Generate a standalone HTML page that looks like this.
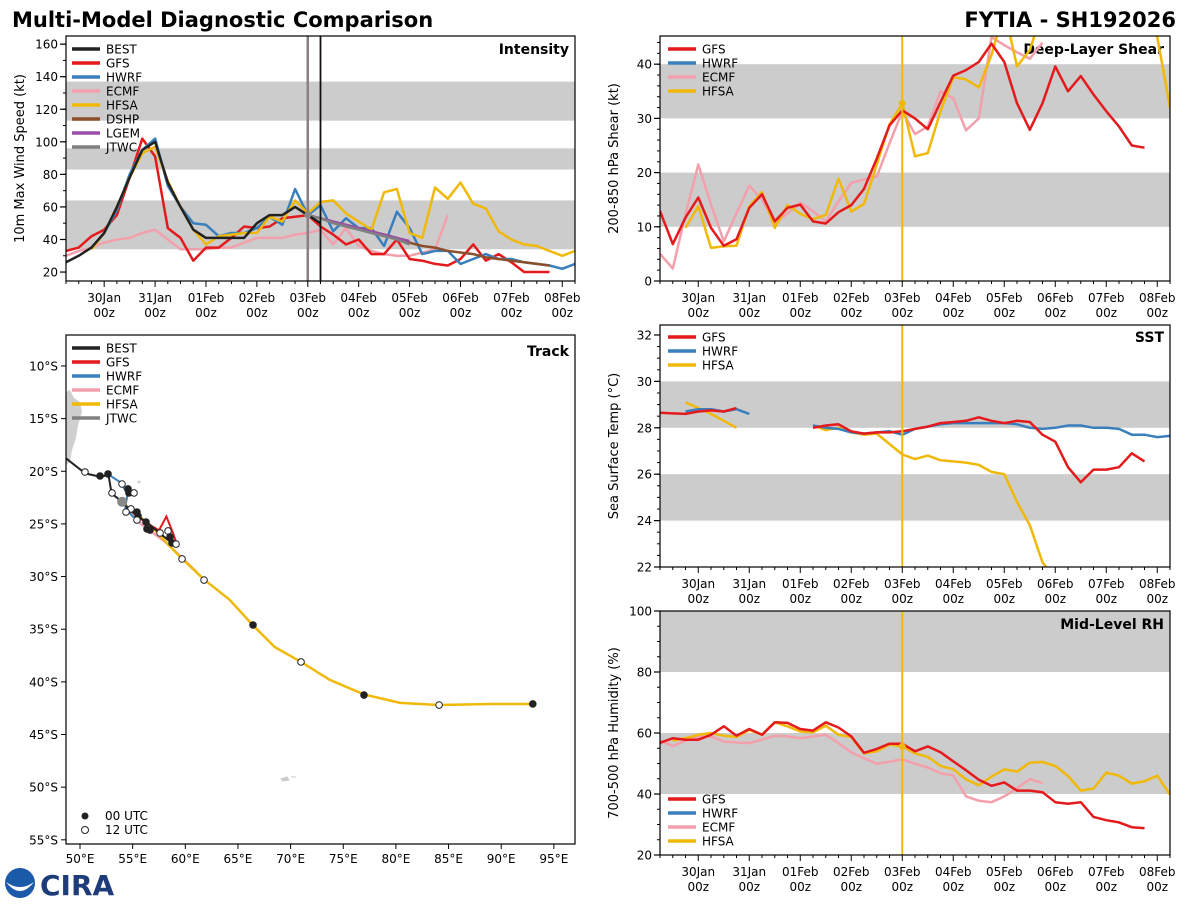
<!DOCTYPE html>
<html><head><meta charset="utf-8"><style>
html,body{margin:0;padding:0;background:#fff;}
svg text{font-family:"DejaVu Sans","Liberation Sans",sans-serif;}
</style></head><body>
<svg id="root" xmlns="http://www.w3.org/2000/svg" width="1200" height="900" viewBox="0 0 1200 900">
<rect width="1200" height="900" fill="#fff"/>
<text x="12" y="27" font-size="21" font-weight="bold" fill="#000">Multi-Model Diagnostic Comparison</text>
<text x="1176" y="27" font-size="21" font-weight="bold" fill="#000" text-anchor="end">FYTIA - SH192026</text>
<g>
<circle cx="20" cy="883" r="15" fill="#1a5aa8"/>
<path d="M6,882 Q20,900 34,882 Q20,892 6,882Z" fill="#fff"/>
<text x="40" y="895" font-size="28" font-weight="bold" fill="#1f3c7a" font-family="Liberation Serif,serif">CIRA</text>
</g>
</svg>
<script>
// ---------- DATA ----------
const dayLabels = ["30Jan","31Jan","01Feb","02Feb","03Feb","04Feb","05Feb","06Feb","07Feb","08Feb"];
// series index i -> hour 6+6*i from 29Jan 00z
const intBEST = [26,30,35,44,60,78,95,100,75,60,46,41,41,41,41,50,55,55,60,55,50];
const intGFS  = [33,35,42,46,55,78,102,91,47,41,27,35,35,41,48,47,48,53,54,55,48,43,37,40,31,31,40,28,27,25,24,28,37,27,31,26,20,20,20];
const intHWRF = [null,null,35,44,58,80,95,102,73,60,50,49,42,44,44,47,54,49,71,55,61,45,53,47,47,36,57,47,31,33,33,25,28,31,28,28,26,25,24,22,25];
const intECMF = [30,33,35,38,40,41,44,46,40,34,34,34,35,35,38,41,41,41,43,44,46,37,47,36,33,31,30,30,32,34,55];
const intHFSA = [null,null,34,44,60,78,93,97,76,60,46,37,42,43,44,44,54,51,64,56,63,64,56,51,46,69,71,44,41,72,65,75,62,59,45,40,37,36,33,30,33];
const intDSHP = [null,null,null,null,null,null,null,null,null,null,null,null,null,null,null,null,null,null,null,55,53,51,49,47,45,43,41,38,36,35,33,32,31,29,28,27,26,25,24];
const intLGEM = [null,null,null,null,null,null,null,null,null,null,null,null,null,null,null,null,null,null,null,55,53,51,49,47,45,43,41,39];
const intJTWC = [null,null,null,null,null,null,null,null,null,null,null,null,null,null,null,null,null,null,null,55,53,50,48,46,44,42,40,37];

const shrGFS  = [12.9,6.8,11.7,15.4,9.8,6.5,7.7,13.5,16,11,13.5,14.1,11,10.6,12.7,14,17,22.6,28.7,31.5,30,28,33,37.9,38.9,40.4,43.8,40.4,32.8,27.9,32.8,39.6,35,37.8,34.4,31.3,28.5,25,24.6];
const shrECMF = [5,2.3,12.3,21.5,14.1,7.3,12.5,17.6,15,10.7,12.5,14.4,12.9,11,14.7,18.1,18.7,19.3,25.4,31.3,27.1,28.5,35,33.7,27.8,30,45,43.5,42.2,41,44];
const shrHFSA = [null,null,9.8,13.8,6.1,6.4,6.5,13.8,16.4,9.8,14,12.4,11.4,12.2,18.9,12.8,14.2,21.5,28.9,32.8,23,23.6,31.3,37.6,37.2,35.7,41.7,50,39.6,42.6,50,52,55,55,53,52,50,50,48,45,32];

const sstGFS  = [28.65,28.62,28.6,28.7,28.75,28.7,28.85,null,null,null,null,null,28.0,28.1,28.15,27.85,27.75,27.8,27.8,27.85,27.95,28.05,28.2,28.25,28.3,28.45,28.3,28.2,28.3,28.25,27.7,27.4,26.3,25.65,26.2,26.2,26.3,26.9,26.55];
const sstHWRF = [null,null,28.7,28.8,28.8,28.7,28.8,28.6,null,null,null,null,28.1,28.0,27.95,27.8,27.75,27.8,27.85,27.7,27.95,28.05,28.15,28.2,28.2,28.2,28.2,28.2,28.15,28.0,27.95,28.0,28.1,28.1,28.0,28.0,27.95,27.7,27.7,27.6,27.65];
const sstHFSA = [null,null,29.1,28.85,28.6,28.3,28.0,null,null,null,null,null,28.1,27.9,28.0,27.8,27.7,27.75,27.3,26.85,26.65,26.8,26.6,26.55,26.5,26.4,26.1,26.0,24.8,23.8,22.2,21.5];

const rhGFS  = [56.8,58.3,57.8,57.8,59.4,62.2,59.1,61.3,59.4,63.5,63.3,61.3,60.8,63.5,61.8,58.9,53.5,54.8,56.5,56.5,54,55.6,53.7,50.7,47.8,44.7,42.7,43.8,41.1,41.1,40.6,37.3,36.8,37.3,32.5,31.4,30.7,29.1,28.8];
const rhECMF = [57.5,55.7,57.5,58.7,58.9,57.2,56.9,56.7,57.8,59.1,58.9,58.3,58.9,59.4,56.7,53.6,51.7,49.9,50.6,51.4,49.9,48.7,46.8,46.1,39.2,37.8,37.3,39.2,41.9,44.9,43.6];
const rhHFSA = [null,57.5,58.3,59.4,60,59.1,58.7,61,59.4,63.5,62.2,60.5,60.2,62.4,59.4,58.7,53.3,54,56.2,55.6,53.3,52.2,49.2,48.1,44.8,42.9,45.7,48.1,47.3,50.3,50.5,49.2,45.9,41.1,41.8,47,46,43.4,44.2,46,39.8];

const trkBestLon = [48.7,50.5,52.0,52.7,53.0,54.0,54.75,55.4,56.4,57.6,58.7];
const trkBestLat = [18.8,20.2,20.55,20.3,22.1,22.9,23.7,24.2,24.9,25.9,26.8];
const trkHfsaLon = [54.3,56.65,58.7,59.7,61.8,64.2,66.4,68.5,71.0,73.7,77.0,80.4,84.1,88.9,93.0];
const trkHfsaLat = [23.2,25.1,27.3,28.3,30.3,32.2,34.6,36.7,38.1,39.8,41.2,42.0,42.2,42.1,42.1];
const trkEcmfLon = [54.0,55.9,58.2,61.1];
const trkEcmfLat = [22.9,25.1,26.8,29.6];
const trkGfsLon = [55.3,56.8,57.5,58.2,58.8,59.3];
const trkGfsLat = [24.2,25.2,25.6,24.3,25.8,27.2];
const trkHwrfLon = [52.7,53.9,54.5,54.3,55.1];
const trkHwrfLat = [20.3,21.1,22.2,23.5,24.4];
const mkLon = [50.47,51.9,52.66,53.04,53.99,54.56,54.65,55.13,54.84,54.37,55.41,55.51,55.41,56.27,56.36,56.65,57.6,58.36,58.55,58.74,59.12,59.69,61.78,66.43,70.99,76.97,84.1,93.0];
const mkLat = [20.07,20.45,20.26,22.06,21.21,21.68,22.06,22.06,23.58,23.87,23.87,24.25,24.63,24.82,25.48,25.58,25.86,25.67,26.24,26.81,26.91,28.33,30.33,34.6,38.11,41.25,42.2,42.1];
const mkFilled = [0,1,1,0,0,1,1,0,0,0,1,1,0,1,1,1,0,0,1,1,0,0,0,1,0,1,0,1];

// ---------- DRAWING ----------
const NS="http://www.w3.org/2000/svg";
const root=document.getElementById('root');
function el(tag,attrs,parent){const e=document.createElementNS(NS,tag);for(const k in attrs)e.setAttribute(k,attrs[k]);(parent||root).appendChild(e);return e;}
function txt(x,y,s,attrs,parent){const t=el('text',Object.assign({x:x,y:y,'font-size':12,fill:'#000'},attrs||{}),parent);t.textContent=s;return t;}
const C={BEST:'#222222',GFS:'#e41a1c',HWRF:'#3a7fbd',ECMF:'#f3a0ad',HFSA:'#f0b90a',DSHP:'#8c4f2c',LGEM:'#9b4fa8',JTWC:'#808080'};

function makePanel(name,x0,y0,w,h,ymin,ymax,majors,minorStep,bands,ylabel,title,titleY){
  const g=el('g',{});
  
  
  const sy=v=>y0+h-(v-ymin)/(ymax-ymin)*h;
  const sx=hr=>x0+(hr-6)/240*w;
  const cid='clip-'+name;
  const cp=el('clipPath',{id:cid},g);el('rect',{x:x0,y:y0,width:w,height:h},cp);
  bands.forEach(b=>{const r=el('rect',{x:x0,y:sy(b[1]),width:w,height:sy(b[0])-sy(b[1]),fill:'#cccccc','clip-path':'url(#'+cid+')'},g);
    
    });
  // y ticks
  for(let v=Math.ceil(ymin/minorStep)*minorStep;v<=ymax+1e-9;v+=minorStep){el('line',{x1:x0-3,x2:x0,y1:sy(v),y2:sy(v),stroke:'#000','stroke-width':1},g);}
  majors.forEach(v=>{el('line',{x1:x0-6,x2:x0,y1:sy(v),y2:sy(v),stroke:'#000','stroke-width':1.2},g);
    const t=txt(x0-8,sy(v)+4.5,String(v),{'text-anchor':'end'},g);
    
    });
  // x ticks
  for(let hr=6;hr<=246;hr+=6){const major=(hr%24===0);el('line',{x1:sx(hr),x2:sx(hr),y1:y0+h,y2:y0+h+(major?6:3),stroke:'#000','stroke-width':1},g);}
  dayLabels.forEach((d,k)=>{const hr=24+24*k;const t1=txt(sx(hr),y0+h+21,d,{'text-anchor':'middle'},g);
    
    
    const t2=txt(sx(hr),y0+h+36,'00z',{'text-anchor':'middle'},g);
    
    });
  const yl=txt(0,0,ylabel,{'text-anchor':'middle','font-size':13,transform:'translate('+(x0-42)+','+(y0+h/2)+') rotate(-90)'},g);
  
  
  const tt=txt(x0+w-6,titleY,title,{'text-anchor':'end','font-size':14,'font-weight':'bold'},g);
  
  
  return {g,sx,sy,cid,x0,y0,w,h};
}
function series(P,vals,color,width,name){
  let segs=[],cur=[];
  vals.forEach((v,i)=>{if(v===null||v===undefined){if(cur.length)segs.push(cur);cur=[];}else cur.push([P.sx(6+6*i),P.sy(v)]);});
  if(cur.length)segs.push(cur);
  segs.forEach(s=>{const p=el('polyline',{points:s.map(q=>q[0].toFixed(1)+','+q[1].toFixed(1)).join(' '),fill:'none',stroke:color,'stroke-width':width,'stroke-linejoin':'round','clip-path':'url(#'+P.cid+')'},P.g);
    
    });
}
function legend(P,x,y,names,parent){
  names.forEach((n,k)=>{el('line',{x1:x,x2:x+28,y1:y+k*14,y2:y+k*14,stroke:C[n],'stroke-width':3.5},parent||P.g);
    const t=txt(x+34,y+k*14+4.5,n,{},parent||P.g);
    
    });
}
function frame(P){el('rect',{x:P.x0,y:P.y0,width:P.w,height:P.h,fill:'none',stroke:'#000','stroke-width':1.2},P.g);}
function vline(P,hr,color,width){const l=el('line',{x1:P.sx(hr),x2:P.sx(hr),y1:P.y0,y2:P.y0+P.h,stroke:color,'stroke-width':width},P.g);
  
  }

// Intensity
const PI=makePanel('intensity',66,36,509,245,14.5,165,[20,40,60,80,100,120,140,160],10,[[34,64],[83,96],[113,137]],'10m Max Wind Speed (kt)','Intensity',54);
series(PI,intECMF,C.ECMF,2.5,'ecmf-intensity-line');
series(PI,intGFS,C.GFS,2.5,'gfs-intensity-line');
series(PI,intHWRF,C.HWRF,2.5,'hwrf-intensity-line');
series(PI,intHFSA,C.HFSA,2.5,'hfsa-intensity-line');
series(PI,intDSHP,C.DSHP,2.5,'dshp-intensity-line');
series(PI,intLGEM,C.LGEM,2.5,'lgem-intensity-line');
series(PI,intJTWC,C.JTWC,2.5,'jtwc-intensity-line');
series(PI,intBEST,C.BEST,2.5,'best-intensity-line');
vline(PI,120,'#8a8080',2.5);vline(PI,126,'#111',1.8);
el('circle',{cx:PI.sx(120),cy:PI.sy(55),r:3.5,fill:'#888'},PI.g);
legend(PI,72,49,['BEST','GFS','HWRF','ECMF','HFSA','DSHP','LGEM','JTWC']);
frame(PI);

// Shear
const PS=makePanel('shear',660,36,510,245,0,45.2,[0,10,20,30,40],2,[[10,20],[30,40]],'200-850 hPa Shear (kt)','Deep-Layer Shear',54);
series(PS,shrECMF,C.ECMF,2.5,'ecmf-shear-line');
series(PS,shrHFSA,C.HFSA,2.5,'hfsa-shear-line');
series(PS,shrGFS,C.GFS,2.5,'gfs-shear-line');
vline(PS,120,C.HFSA,2);
el('circle',{cx:PS.sx(120),cy:PS.sy(shrHFSA[19]),r:3.5,fill:C.HFSA},PS.g);
legend(PS,668,49,['GFS','HWRF','ECMF','HFSA']);
frame(PS);

// SST
const PT=makePanel('sst',660,325,510,242,22,32.43,[22,24,26,28,30,32],0.5,[[24,26],[28,30]],'Sea Surface Temp (°C)','SST',342);
series(PT,sstHFSA,C.HFSA,2.5,'hfsa-sst-line');
series(PT,sstHWRF,C.HWRF,2.5,'hwrf-sst-line');
series(PT,sstGFS,C.GFS,2.5,'gfs-sst-line');
vline(PT,120,C.HFSA,2);
legend(PT,668,337,['GFS','HWRF','HFSA']);
frame(PT);

// RH
const PR=makePanel('rh',660,611,510,244,20,100,[20,40,60,80,100],5,[[40,60],[80,100]],'700-500 hPa Humidity (%)','Mid-Level RH',629);
series(PR,rhECMF,C.ECMF,2.5,'ecmf-rh-line');
series(PR,rhHFSA,C.HFSA,2.5,'hfsa-rh-line');
series(PR,rhGFS,C.GFS,2.5,'gfs-rh-line');
vline(PR,120,C.HFSA,2);
el('circle',{cx:PR.sx(120),cy:PR.sy(rhHFSA[19]),r:3.5,fill:C.HFSA},PR.g);
legend(PR,668,799,['GFS','HWRF','ECMF','HFSA']);
frame(PR);

// Track map
(function(){
  const g=el('g',{});
  
  
  const x0=66,y0=335,w=509,h=509;
  const lx=lon=>x0+(lon-48.67)*10.53, ly=lat=>y0+(lat-7.06)*10.53;
  const cp=el('clipPath',{id:'clip-track'},g);el('rect',{x:x0,y:y0,width:w,height:h},cp);
  const land=el('polygon',{points:'66,392 70,390 74,398 80,402 82,412 78,425 76,438 72,450 70,462 66,465',fill:'#cfcfcf','clip-path':'url(#clip-track)'},g);
  
  
  el('circle',{cx:139,cy:482,r:1.5,fill:'#d0d0d0'},g);
  el('path',{d:'M281,779 l6,-2 l2,3 l-6,1z M291,777 l5,0',stroke:'#ccc',fill:'#ccc'},g);
  for(let lat=10;lat<=55;lat+=5){el('line',{x1:x0-5,x2:x0,y1:ly(lat),y2:ly(lat),stroke:'#000'},g);
    const t=txt(x0-8,ly(lat)+4.5,lat+'°S',{'text-anchor':'end'},g);
    
    }
  for(let lon=50;lon<=95;lon+=5){el('line',{x1:lx(lon),x2:lx(lon),y1:y0+h,y2:y0+h+5,stroke:'#000'},g);
    const t=txt(lx(lon),y0+h+19,lon+'°E',{'text-anchor':'middle'},g);
    
    }
  function tl(lons,lats,col,wd,name){const p=el('polyline',{points:lons.map((v,i)=>lx(v).toFixed(1)+','+ly(lats[i]).toFixed(1)).join(' '),fill:'none',stroke:col,'stroke-width':wd,'clip-path':'url(#clip-track)'},g);
    
    }
  tl(trkEcmfLon,trkEcmfLat,C.ECMF,2.5,'ecmf-track');
  tl(trkHwrfLon,trkHwrfLat,C.HWRF,2,'hwrf-track');
  tl(trkHfsaLon,trkHfsaLat,C.HFSA,2.5,'hfsa-track');
  tl(trkGfsLon,trkGfsLat,C.GFS,2,'gfs-track');
  tl(trkBestLon,trkBestLat,C.BEST,2,'best-track');
  el('circle',{cx:lx(54.0),cy:ly(22.9),r:5,fill:'#888'},g);
  mkLon.forEach((v,i)=>{const c=el('circle',{cx:lx(v),cy:ly(mkLat[i]),r:3.3,fill:mkFilled[i]?'#222':'#fff',stroke:'#222','stroke-width':1},g);
    
    });
  legend({g:g},72,348,['BEST','GFS','HWRF','ECMF','HFSA','JTWC'],g);
  el('circle',{cx:85,cy:816,r:3.5,fill:'#222'},g);
  const a=txt(105,820,'00 UTC',{},g);
  
  
  el('circle',{cx:85,cy:830,r:3.5,fill:'#fff',stroke:'#222'},g);
  const b=txt(105,834,'12 UTC',{},g);
  
  
  const tt=txt(x0+w-6,356,'Track',{'text-anchor':'end','font-size':14,'font-weight':'bold'},g);
  
  
  el('rect',{x:x0,y:y0,width:w,height:h,fill:'none',stroke:'#000','stroke-width':1.2},g);
})();
</script>
</body></html>
